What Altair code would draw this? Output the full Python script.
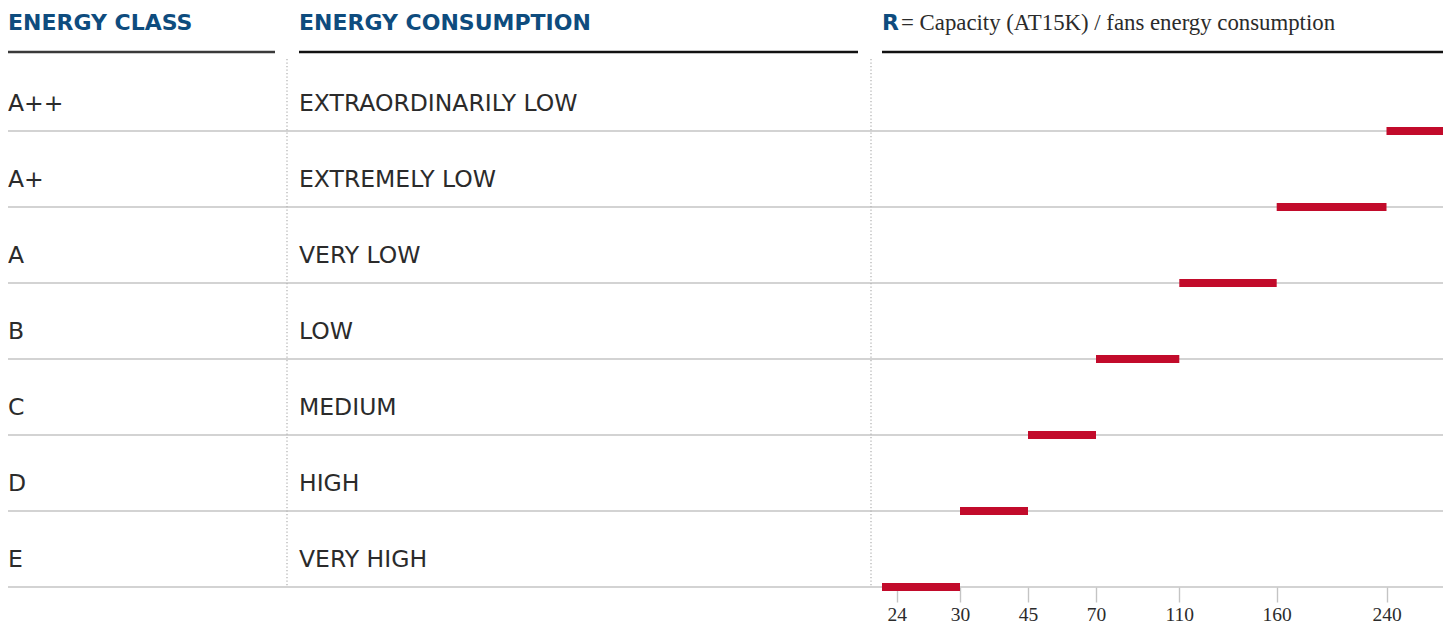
import altair as alt
import pandas as pd

# ---- data ----
classes = ["A++", "A+", "A", "B", "C", "D", "E"]
consumption = ["EXTRAORDINARILY LOW", "EXTREMELY LOW", "VERY LOW", "LOW", "MEDIUM", "HIGH", "VERY HIGH"]
axis_min, axis_max = 22.6, 280
r_low = [240, 160, 110, 70, 45, 30, axis_min]
r_high = [axis_max, 240, 160, 110, 70, 45, 30]
tick_values = [24, 30, 45, 70, 110, 160, 240]
header_class = ["ENERGY CLASS"]
header_cons = ["ENERGY CONSUMPTION"]
header_r_bold = ["R"]
header_r_rest = ["= Capacity (AT15K) / fans energy consumption"]

df = pd.DataFrame({"cls": classes, "cons": consumption, "lo": r_low, "hi": r_high})

W, H = 1435, 532
BLUE = "#0e4c7e"
TEXT = "#2b2b2b"
SANS = "DejaVu Sans"
SERIF = "Liberation Serif"

yb = alt.Y("cls:N", sort=classes, axis=None,
           scale=alt.Scale(domain=classes, paddingInner=0, paddingOuter=0))
ybottom = alt.Y("cls:N", sort=classes, axis=None, bandPosition=1,
                scale=alt.Scale(domain=classes, paddingInner=0, paddingOuter=0))

xscale = alt.Scale(domain=[axis_min, 24, 30, 45, 70, 110, 160, 240, axis_max],
                   range=[874, 888.7, 952, 1020, 1088, 1171.3, 1268.7, 1378.5, 1435],
                   zero=False, nice=False)

base = alt.Chart(df)

row_lines = base.mark_rule(color="#c4c4c4", strokeWidth=1.4).encode(
    y=ybottom, x=alt.value(0), x2=alt.value(W))

class_text = base.mark_text(align="left", baseline="alphabetic", dy=18,
                            font=SANS, fontSize=23.5, color=TEXT).encode(
    y=yb, x=alt.value(0), text="cls:N")

cons_text = base.mark_text(align="left", baseline="alphabetic", dy=18,
                           font=SANS, fontSize=23.5, color=TEXT).encode(
    y=yb, x=alt.value(291), text="cons:N")

bars = base.mark_rule(color="#c20b2b", strokeWidth=8, strokeCap="butt").encode(
    x=alt.X("lo:Q", scale=xscale,
            axis=alt.Axis(values=tick_values, title=None, domain=False, grid=False,
                          tickColor="#c4c4c4", tickWidth=1.4, tickSize=15,
                          labelFont=SERIF, labelFontSize=19.5, labelColor=TEXT,
                          labelBaseline="alphabetic",
                          labelPadding=18, labelFlush=False)),
    x2="hi:Q",
    y=ybottom)

one = alt.Data(values=[{"a": 1}])

def hdr_text(txt, x, font, size, weight, color):
    return alt.Chart(pd.DataFrame({"t": txt})).mark_text(
        align="left", baseline="alphabetic", font=font, fontSize=size,
        fontWeight=weight, color=color).encode(
        x=alt.value(x), y=alt.value(-25), text="t:N")

def hdr_rule(x0, x1, color):
    return alt.Chart(one).mark_rule(color=color, strokeWidth=2.5).encode(
        x=alt.value(x0), x2=alt.value(x1), y=alt.value(-3))

def vdots(x):
    return alt.Chart(one).mark_rule(color="#b5b5b5", strokeWidth=1.3,
                                    strokeDash=[1.3, 2.2]).encode(
        x=alt.value(x), y=alt.value(4), y2=alt.value(H))

layers = [
    row_lines,
    vdots(279), vdots(863),
    hdr_rule(0, 267, "#3a3a3a"), hdr_rule(291, 850, "#111111"), hdr_rule(874, W, "#111111"),
    hdr_text(header_class, 0, SANS, 22, "bold", BLUE),
    hdr_text(header_cons, 291, SANS, 22, "bold", BLUE),
    hdr_text(header_r_bold, 874, SANS, 22, "bold", BLUE),
    hdr_text(header_r_rest, 893, SERIF, 22.8, "normal", TEXT),
    class_text, cons_text, bars,
]

chart = alt.layer(*layers).properties(
    width=W, height=H,
    autosize=alt.AutoSizeParams(type="none"),
    padding={"left": 0, "top": 47, "right": 0, "bottom": 38},
).configure_view(stroke=None)

chart.save("out.html", embed_options={"renderer": "svg", "actions": False})
